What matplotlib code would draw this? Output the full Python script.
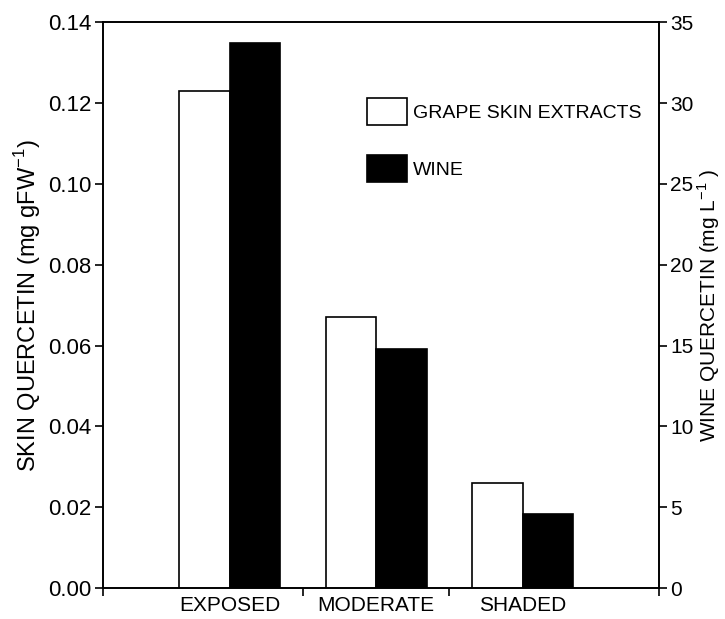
import matplotlib
matplotlib.use("Agg")
import matplotlib.pyplot as plt
import numpy as np

categories = ["EXPOSED", "MODERATE", "SHADED"]
skin_quercetin = [0.123, 0.067, 0.026]  # mg gFW-1, left axis
wine_quercetin = [33.7, 14.8, 4.6]  # mg L-1, right axis

plt.rcParams["font.family"] = ["Liberation Sans", "DejaVu Sans"]

fig = plt.figure(figsize=(7.25, 6.19), dpi=100)
ax = fig.add_axes([0.142, 0.050, 0.767, 0.914])
ax2 = ax.twinx()

x = np.arange(len(categories))
w = 0.345
ax.bar(x - w / 2, skin_quercetin, w, color="white", edgecolor="black",
       linewidth=1.2, label="GRAPE SKIN EXTRACTS", zorder=3)
ax2.bar(x + w / 2, wine_quercetin, w, color="black", edgecolor="black",
        linewidth=1.2, label="WINE", zorder=3)

ax.set_xlim(-0.865, 2.93)
ax.set_ylim(0, 0.14)
ax2.set_ylim(0, 35)

ax.set_yticks(np.arange(0, 0.141, 0.02))
ax.set_yticklabels([f"{v:.2f}" for v in np.arange(0, 0.141, 0.02)])
ax2.set_yticks(np.arange(0, 36, 5))

ax.set_xticks(x)
ax.set_xticklabels(categories, fontsize=15)
ax.tick_params(axis="x", length=0, pad=6)
ax.set_xticks([-0.865, 0.5, 1.5, 2.93], minor=True)
ax.tick_params(axis="x", which="minor", length=6, width=1.2, direction="out")

ax.tick_params(axis="y", length=6, width=1.2, labelsize=16, pad=2)
ax2.tick_params(axis="y", length=6, width=1.2, labelsize=15, pad=2)

for a in (ax, ax2):
    for s in a.spines.values():
        s.set_linewidth(1.2)

ax.set_ylabel("SKIN QUERCETIN (mg gFW$^{\\mathregular{-1}}$)", fontsize=17,
              labelpad=4)
ax2.set_ylabel("WINE QUERCETIN (mg L$^{\\mathregular{-1}}$ )", fontsize=15,
               rotation=90, labelpad=1)

h1, l1 = ax.get_legend_handles_labels()
h2, l2 = ax2.get_legend_handles_labels()
leg = ax2.legend(h1 + h2, l1 + l2, loc="upper left",
                 bbox_to_anchor=(0.46, 0.88), frameon=False,
                 handlelength=2.1, handleheight=1.8, handletextpad=0.3,
                 labelspacing=1.5, borderaxespad=0,
                 prop={"size": 14})

fig.savefig("out.png", dpi=100)
